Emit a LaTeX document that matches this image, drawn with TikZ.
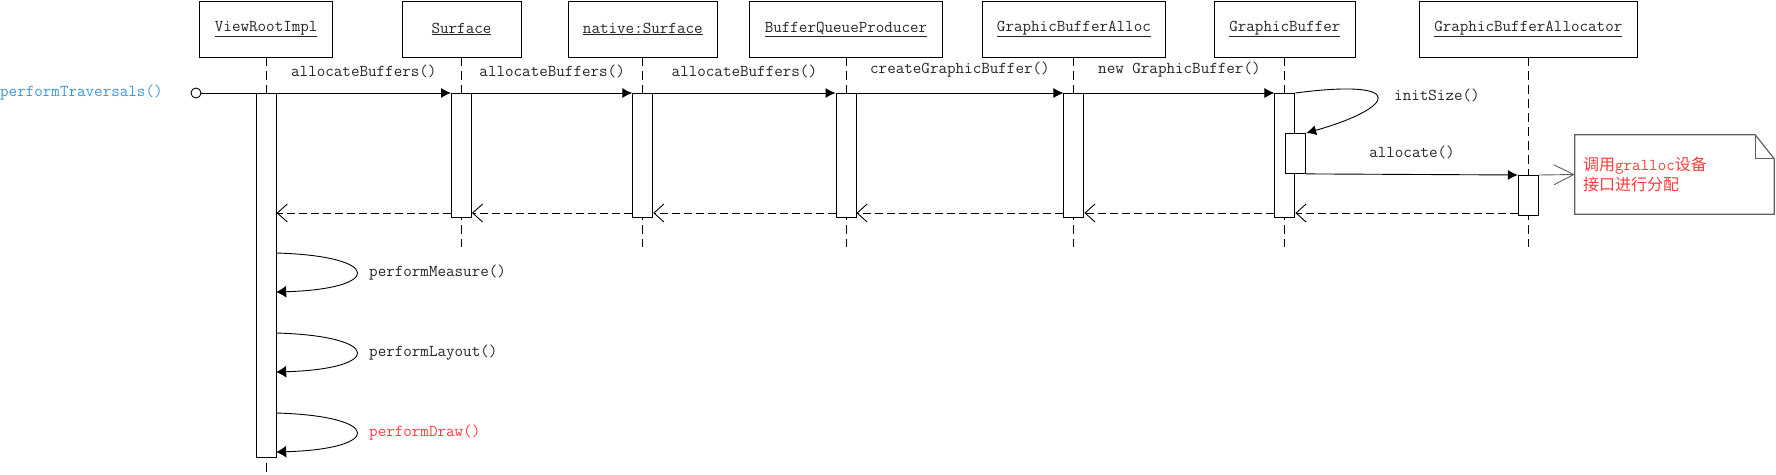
\documentclass[tikz,border=0pt]{standalone}
\usepackage{fontspec}
\usetikzlibrary{arrows.meta}
\tikzset{>={Latex[length=10pt,width=10pt]}}
\definecolor{tblue}{HTML}{3D97DB}
\definecolor{tred}{HTML}{FF3B3B}
\definecolor{ngray}{HTML}{606060}
\definecolor{tdark}{HTML}{262626}
\newfontfamily\cjk{Noto Sans CJK SC}
\newcommand\msgfont{\ttfamily\fontsize{16.6}{20}\selectfont}
\newcommand\cn[1]{{\cjk\fontsize{16}{22}\selectfont #1}}
\tikzstyle{obj}=[draw,line width=0.9pt,minimum height=56pt,minimum width=119pt,inner xsep=15pt]
\tikzstyle{act}=[draw,line width=0.9pt,fill=white,minimum width=20pt,inner sep=0pt,anchor=north]
\tikzstyle{life}=[line width=0.9pt,dash pattern=on 9pt off 5pt]
\tikzstyle{call}=[->,line width=0.9pt]
\tikzstyle{reply}=[-{Straight Barb[length=10pt,width=18pt]},line width=0.9pt,dash pattern=on 8pt off 4pt]
\tikzstyle{lbl}=[midway,above=15pt,inner sep=0pt]
\tikzstyle{selfcall}=[-{Latex[length=10pt,width=12pt]},line width=0.9pt]

\begin{document}
\begin{tikzpicture}[x=1pt,y=-1pt,font=\msgfont,text=tdark]
  \useasboundingbox (0,0) rectangle (1776,474);
  \node[obj] (vri) at (266.2,29) {\underline{ViewRootImpl}};
  \node[obj] (sf) at (461.5,29) {\underline{Surface}};
  \node[obj] (ns) at (642.8,29) {\underline{native:Surface}};
  \node[obj] (bq) at (846,29) {\underline{BufferQueueProducer}};
  \node[obj] (ga) at (1073.9,29) {\underline{GraphicBufferAlloc}};
  \node[obj] (gb) at (1284.9,29) {\underline{GraphicBuffer}};
  \node[obj] (al) at (1528.3,29) {\underline{GraphicBufferAllocator}};
  \draw[life] (vri.south) -- ++(0,416);
  \foreach \o in {sf,ns,bq,ga,gb,al}
    \draw[life] (\o.south) -- ++(0,190);
  \node[act,minimum height=364pt] (vriA) at (266.2,93) {};
  \node[act,minimum height=124pt] (sfA) at (461.5,93) {};
  \node[act,minimum height=124pt] (nsA) at (642.8,93) {};
  \node[act,minimum height=124pt] (bqA) at (846,93) {};
  \node[act,minimum height=124pt] (gaA) at (1073.9,93) {};
  \node[act,minimum height=124pt] (gbA) at (1284.9,93) {};
  \node[act,minimum height=40pt] (gbB) at (1295.7,133) {};
  \node[act,minimum height=40pt] (alA) at (1528.3,175) {};
  \node[anchor=west,inner sep=0pt,text=tblue] (ptrav) at (0,93) {performTraversals()};
  \node[circle,draw,line width=0.9pt,minimum size=10pt,inner sep=0pt] (src) at (196,93) {};
  \draw[line width=0.9pt] (src) -- (vriA.north west);
  \draw[call] (vriA.north east) -- node[lbl] {allocateBuffers()} (sfA.north west);
  \draw[call] (sfA.north east) -- node[lbl] {allocateBuffers()} (nsA.north west);
  \draw[call] (nsA.north east) -- node[lbl] {allocateBuffers()} (bqA.north west);
  \draw[call] (bqA.north east) -- node[lbl] {createGraphicBuffer()} (gaA.north west);
  \draw[call] (gaA.north east) -- node[lbl] {new GraphicBuffer()} (gbA.north west);
  \draw[call] (gbA.north east) .. controls (1410,78) and (1395,108) .. (gbB.north east);
  \node[anchor=west,inner sep=0pt] (linit) at (1394,95) {initSize()};
  \draw[call] (gbB.south east) -- node[lbl] {allocate()} (alA.north west);
  \coordinate (rety) at (0,213);
  \draw[reply] (sfA.west |- rety) -- (vriA.east |- rety);
  \draw[reply] (nsA.west |- rety) -- (sfA.east |- rety);
  \draw[reply] (bqA.west |- rety) -- (nsA.east |- rety);
  \draw[reply] (gaA.west |- rety) -- (bqA.east |- rety);
  \draw[reply] (gbA.west |- rety) -- (gaA.east |- rety);
  \draw[reply] (alA.west |- rety) -- (gbA.east |- rety);
  \node[text width=183pt,inner xsep=8pt,minimum height=79pt,align=left,text=tred] (note) at (1674.5,174.5)
    {\cn{调用}gralloc\cn{设备}\\\cn{接口进行分配}};
  \draw[line width=1.2pt,ngray] (note.north west) -- ([xshift=-19pt]note.north east)
    -- ([yshift=-24pt]note.north east) -- (note.south east) -- (note.south west) -- cycle;
  \draw[line width=1.2pt,ngray] ([xshift=-19pt]note.north east) |- ([yshift=-24pt]note.north east);
  \draw[-{Straight Barb[length=20pt,width=20pt]},line width=0.9pt,ngray] (alA.north east) -- (note.west);
  \draw[selfcall] (276.2,253) .. controls (383,256) and (383,289) .. (276.2,292);
  \draw[selfcall] (276.2,333) .. controls (383,336) and (383,369) .. (276.2,372);
  \draw[selfcall] (276.2,413) .. controls (383,416) and (383,449) .. (276.2,452);
  \node[anchor=west,inner sep=0pt] (lmeas) at (369,273) {performMeasure()};
  \node[anchor=west,inner sep=0pt] (llay) at (369,353) {performLayout()};
  \node[anchor=west,inner sep=0pt,text=tred] (ldraw) at (369,433) {performDraw()};
\end{tikzpicture}
\end{document}
